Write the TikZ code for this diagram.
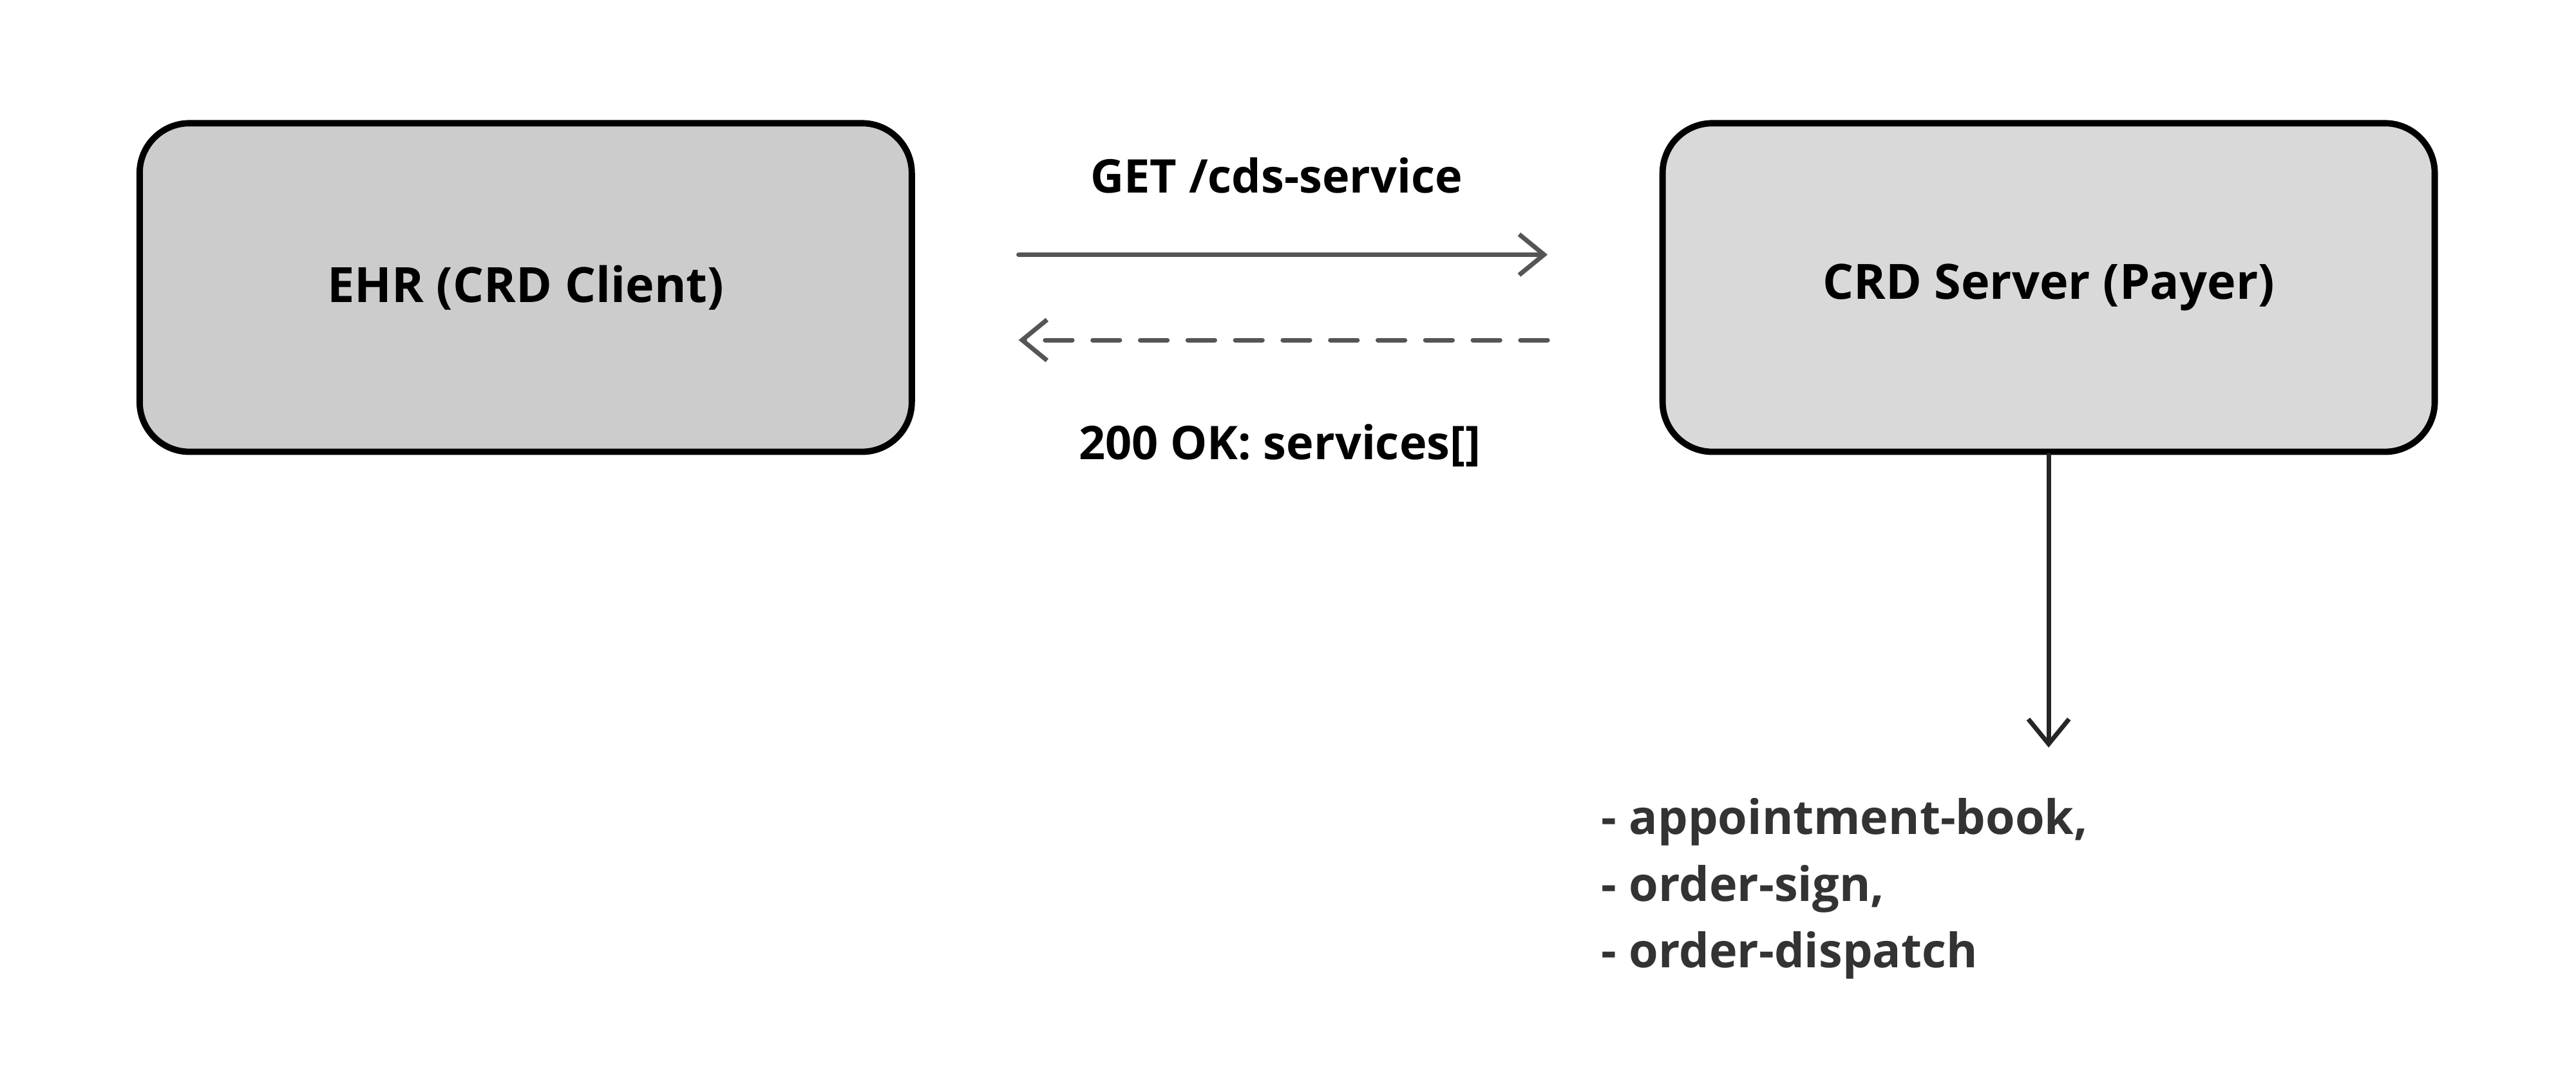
\documentclass[tikz,border=0pt]{standalone}
\usepackage{fontspec}
\setmainfont{Open Sans}
\usetikzlibrary{arrows.meta}
\definecolor{boxA}{HTML}{CCCCCC}
\definecolor{boxB}{HTML}{D9D9D9}
\definecolor{arr}{HTML}{555555}
\definecolor{txt}{HTML}{333333}
\begin{document}
\begin{tikzpicture}[x=0.02551cm,y=-0.02551cm,
  box/.style={draw=black,line width=2.8pt,rounded corners=22pt,minimum width=470*0.02551cm,minimum height=200*0.02551cm,font=\fontsize{21.5}{26}\selectfont\bfseries},
  lbl/.style={font=\fontsize{20.5}{25}\selectfont\bfseries},
  conn/.style={draw=arr,line width=2pt,line cap=round,-{Straight Barb[length=11pt,width=18pt,line width=2pt]}}]
\useasboundingbox (0,0) rectangle (1568,657);
\node[box,fill=boxA] (ehr) at (320,175) {EHR (CRD Client)};
\node[box,fill=boxB] (crd) at (1247,175) {CRD Server (Payer)};
\coordinate (a1) at (620,155); \coordinate (a2) at (942,155);
\coordinate (b1) at (942,207); \coordinate (b2) at (620,207);
\draw[conn] (a1) -- (a2);
\draw[conn,dash pattern=on 12pt off 9pt] (b1) -- (b2);
\node[lbl] (get) at (777,107) {GET /cds-service};
\node[lbl] (ok) at (779,271) {200 OK: services[]};
\node[lbl,text=txt,align=left,anchor=north west,font=\fontsize{21}{29.5}\selectfont\bfseries] (list) at (970,481) {- appointment-book,\\- order-sign,\\- order-dispatch};
\coordinate (d2) at (1247,455);
\draw[conn,draw=black!85] (crd.south) -- (d2);
\end{tikzpicture}
\end{document}
